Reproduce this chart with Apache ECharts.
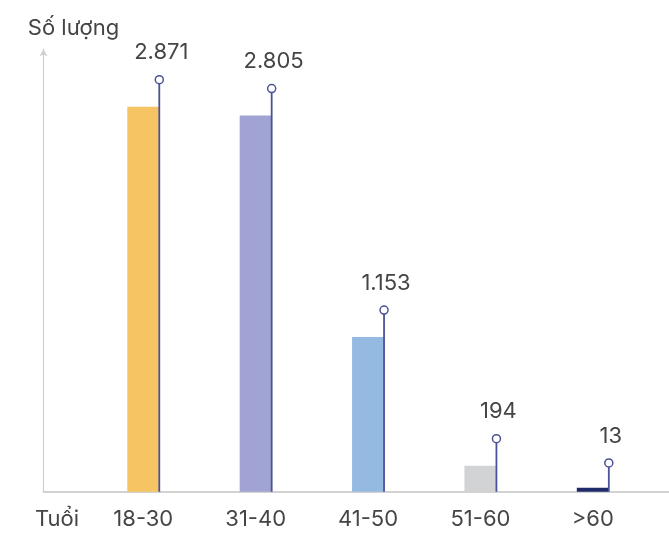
<!DOCTYPE html>
<html>
<head>
<meta charset="utf-8">
<script src="https://cdn.jsdelivr.net/npm/echarts@6/dist/echarts.min.js"></script>
<style>
html,body{margin:0;padding:0;background:#fff;}
#chart{width:669px;height:533px;}
</style>
</head>
<body>
<div id="chart"></div>
<script>
const categories = ['18-30', '31-40', '41-50', '51-60', '>60'];
const values = [2871, 2805, 1153, 194, 13];
const barColors = ['#F6C462', '#A0A3D3', '#94BAE2', '#D2D3D5', '#1E2A6A'];
const yAxisName = 'Số lượng';
const xAxisName = 'Tuổi';

const FONT = 'Inter, "Noto Sans", sans-serif';
const TEXT = '#454545';
const STEM = '#4A5298';

function fmt(v) {
  return String(v).replace(/\B(?=(\d{3})+(?!\d))/g, '.');
}

const chart = echarts.init(document.getElementById('chart'));
const TOP = 49.2, BOTTOM = 41.3, YMAX = 3300;

chart.setOption({
  animation: false,
  backgroundColor: '#fff',
  grid: [
    { left: 43.5, right: 0, top: TOP, bottom: BOTTOM },
    { left: 87.1, right: 20, top: TOP, bottom: BOTTOM }
  ],
  xAxis: [
    {
      gridIndex: 0, type: 'category', data: [''],
      axisLine: { show: true, lineStyle: { color: '#C4C4C4', width: 1.5 } },
      axisTick: { show: false }, axisLabel: { show: false }, splitLine: { show: false }
    },
    {
      gridIndex: 1, type: 'category', data: categories,
      axisLine: { show: false }, axisTick: { show: false },
      axisLabel: { margin: 17, fontSize: 22, color: TEXT, fontFamily: FONT },
      name: xAxisName, nameLocation: 'start', nameGap: 8,
      nameTextStyle: { fontSize: 22, color: TEXT, fontFamily: FONT, align: 'right', verticalAlign: 'top', padding: [17, 0, 0, 0] }
    }
  ],
  yAxis: [
    {
      gridIndex: 0, type: 'value', min: 0, max: YMAX,
      axisLine: { show: true, symbol: ['none', 'arrow'], symbolSize: [6, 7], lineStyle: { color: '#CFCFCF', width: 1.2 } },
      axisTick: { show: false }, axisLabel: { show: false }, splitLine: { show: false },
      name: yAxisName, nameLocation: 'end', nameGap: 10,
      nameTextStyle: { fontSize: 22, color: TEXT, fontFamily: FONT, align: 'center', padding: [0, 0, 0, 60] }
    },
    {
      gridIndex: 1, type: 'value', min: 0, max: YMAX, show: false
    }
  ],
  series: [
    {
      type: 'bar', xAxisIndex: 1, yAxisIndex: 1,
      barWidth: 32, barMinHeight: 4,
      data: values.map((v, i) => ({ value: v, itemStyle: { color: barColors[i] } })),
      z: 2
    },
    {
      type: 'custom', xAxisIndex: 1, yAxisIndex: 1,
      data: values.map((v, i) => [i, v]),
      z: 3,
      renderItem: function (params, api) {
        const idx = api.value(0);
        const v = api.value(1);
        const top = api.coord([idx, v]);
        const base = api.coord([idx, 0]);
        const x = top[0] + 16;
        const cy = top[1] - 27;
        const r = 4;
        return {
          type: 'group',
          children: [
            { type: 'line', shape: { x1: x, y1: base[1], x2: x, y2: cy + r },
              style: { stroke: STEM, lineWidth: 1.8 } },
            { type: 'circle', shape: { cx: x, cy: cy, r: r },
              style: { fill: '#fff', stroke: STEM, lineWidth: 1.5 } },
            { type: 'text', x: x + 2, y: cy - 27,
              style: { text: fmt(v), fill: TEXT, font: '22px ' + FONT, align: 'center', verticalAlign: 'middle' } }
          ]
        };
      }
    }
  ]
});
</script>
</body>
</html>
